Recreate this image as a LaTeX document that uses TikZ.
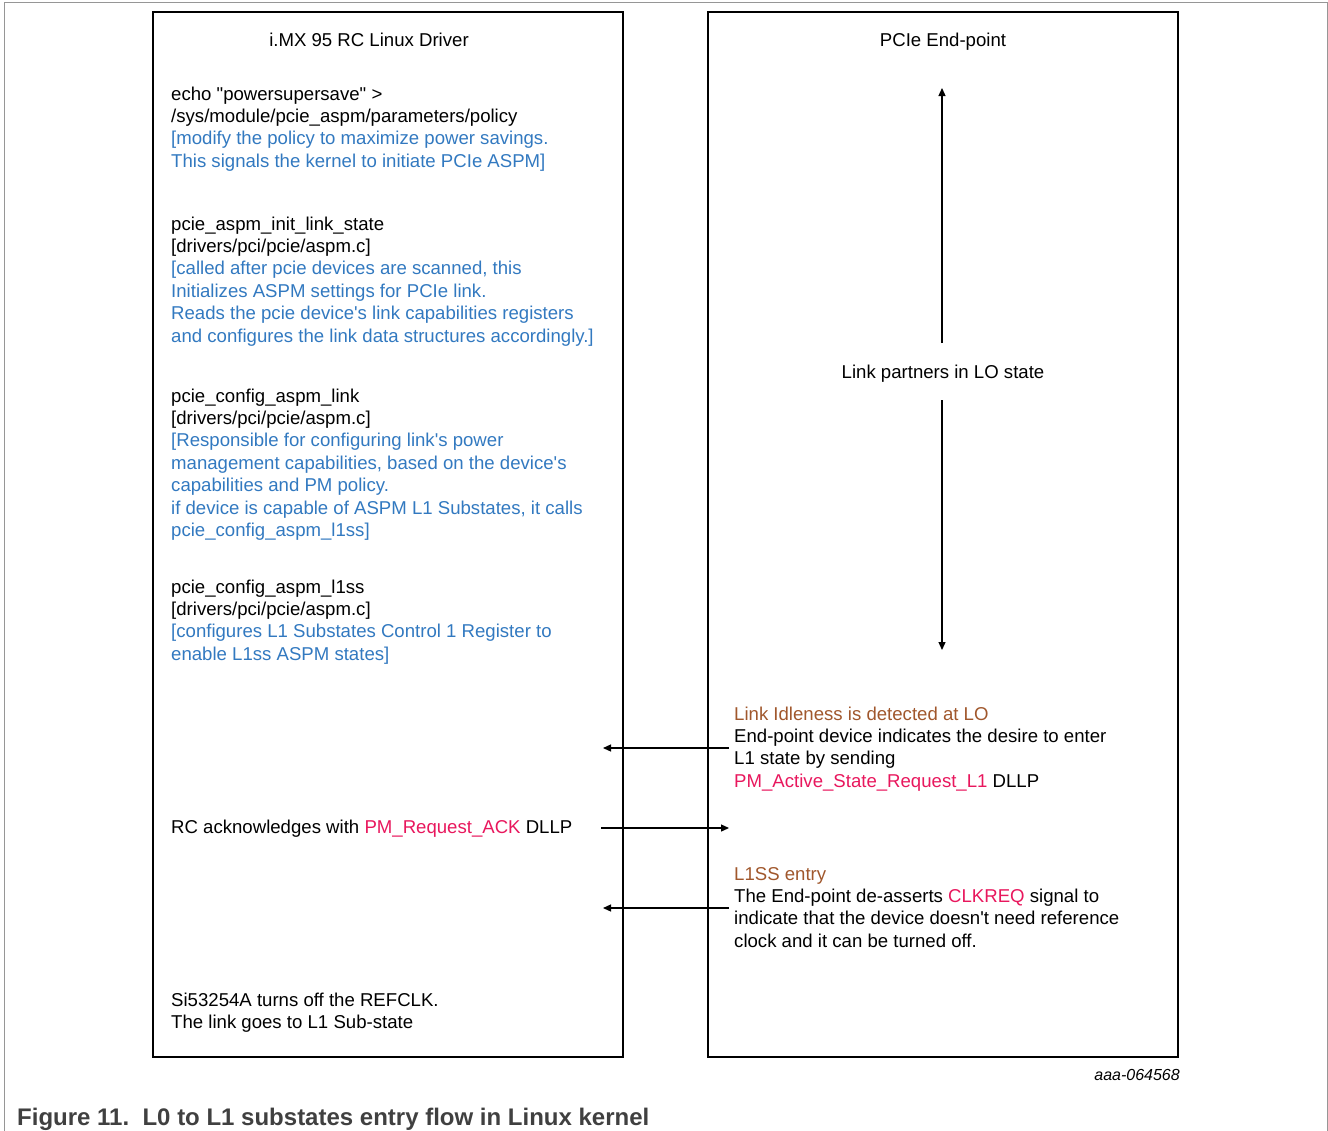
\documentclass[tikz,border=0pt]{standalone}
\usepackage{fontspec}
\setmainfont{Liberation Sans}[Ligatures=TeXOff]
\usetikzlibrary{arrows.meta}
\definecolor{nblue}{RGB}{50,121,192}
\definecolor{nbrown}{RGB}{160,87,44}
\definecolor{nred}{RGB}{232,23,93}
\definecolor{capgray}{RGB}{64,64,64}
\definecolor{framegray}{RGB}{150,150,150}
\begin{document}
\begin{tikzpicture}[x=1pt,y=-1pt,
  txt/.style={anchor=base west, align=left, inner sep=0pt, font=\fontsize{18.6}{22.4}\selectfont},
  ttl/.style={anchor=base, inner sep=0pt, font=\fontsize{18.6}{22.4}\selectfont},
  panel/.style={draw=black, line width=2.5pt},
  arr/.style={line width=1.3pt, -{Triangle[length=8pt,width=7pt]}}]
\useasboundingbox (0,0) rectangle (1328,1130);
% outer frame
\draw[framegray, line width=1pt] (4.5,1135) -- (4.5,2.5) -- (1327,2.5) -- (1327,1135);
% panels
\draw[panel] (153,12) rectangle (623,1057);
\draw[panel] (708,12) rectangle (1178,1057);
% left panel (anchor = baseline of last line)
\node[ttl] (lt) at (369,46) {i.MX 95 RC Linux Driver};
\node[txt] (echo) at (171,167.2) {echo "powersupersave" >\\/sys/module/pcie\_aspm/parameters/policy\\\textcolor{nblue}{[modify the policy to maximize power savings.}\\\textcolor{nblue}{This signals the kernel to initiate PCIe ASPM]}};
\node[txt] (init) at (171,342) {pcie\_aspm\_init\_link\_state\\{}[drivers/pci/pcie/aspm.c]\\\textcolor{nblue}{[called after pcie devices are scanned, this}\\\textcolor{nblue}{Initializes ASPM settings for PCIe link.}\\\textcolor{nblue}{Reads the pcie device's link capabilities registers}\\\textcolor{nblue}{and configures the link data structures accordingly.]}};
\node[txt] (cfg) at (171,536.4) {pcie\_config\_aspm\_link\\{}[drivers/pci/pcie/aspm.c]\\\textcolor{nblue}{[Responsible for configuring link's power}\\\textcolor{nblue}{management capabilities, based on the device's}\\\textcolor{nblue}{capabilities and PM policy.}\\\textcolor{nblue}{if device is capable of ASPM L1 Substates, it calls}\\\textcolor{nblue}{pcie\_config\_aspm\_l1ss]}};
\node[txt] (l1ss) at (171,660.2) {pcie\_config\_aspm\_l1ss\\{}[drivers/pci/pcie/aspm.c]\\\textcolor{nblue}{[configures L1 Substates Control 1 Register to}\\\textcolor{nblue}{enable L1ss ASPM states]}};
\node[txt] (ack) at (171,833) {RC acknowledges with \textcolor{nred}{PM\_Request\_ACK} DLLP};
\node[txt] (si) at (171,1028.4) {Si53254A turns off the REFCLK.\\The link goes to L1 Sub-state};
% right panel
\node[ttl] (rt) at (943,46) {PCIe End-point};
\node[ttl] (lp) at (943,378) {Link partners in LO state};
\node[txt] (idle) at (734,787.2) {\textcolor{nbrown}{Link Idleness is detected at LO}\\End-point device indicates the desire to enter\\L1 state by sending\\\textcolor{nred}{PM\_Active\_State\_Request\_L1} DLLP};
\node[txt] (entry) at (734,947.2) {\textcolor{nbrown}{L1SS entry}\\The End-point de-asserts \textcolor{nred}{CLKREQ} signal to\\indicate that the device doesn't need reference\\clock and it can be turned off.};
% connectors
\coordinate (upS) at (942,343);
\coordinate (upE) at (942,88);
\coordinate (dnS) at (942,400);
\coordinate (dnE) at (942,650);
\draw[arr] (upS) -- (upE);
\draw[arr] (dnS) -- (dnE);
\coordinate (a1s) at (729,748);
\coordinate (a1e) at (603,748);
\coordinate (a2s) at (601,828);
\coordinate (a2e) at (729,828);
\coordinate (a3s) at (729,908);
\coordinate (a3e) at (603,908);
\draw[arr] (a1s) -- (a1e);
\draw[arr] (a2s) -- (a2e);
\draw[arr] (a3s) -- (a3e);
% caption
\node[anchor=base east, inner sep=0pt, font=\fontsize{16}{19}\selectfont\itshape] (code) at (1180,1080) {aaa-064568};
\node[anchor=base west, inner sep=0pt, text=capgray, font=\fontsize{24}{28}\selectfont\bfseries] (cap) at (17,1125) {Figure 11.\ \ L0 to L1 substates entry flow in Linux kernel};
\end{tikzpicture}
\end{document}
